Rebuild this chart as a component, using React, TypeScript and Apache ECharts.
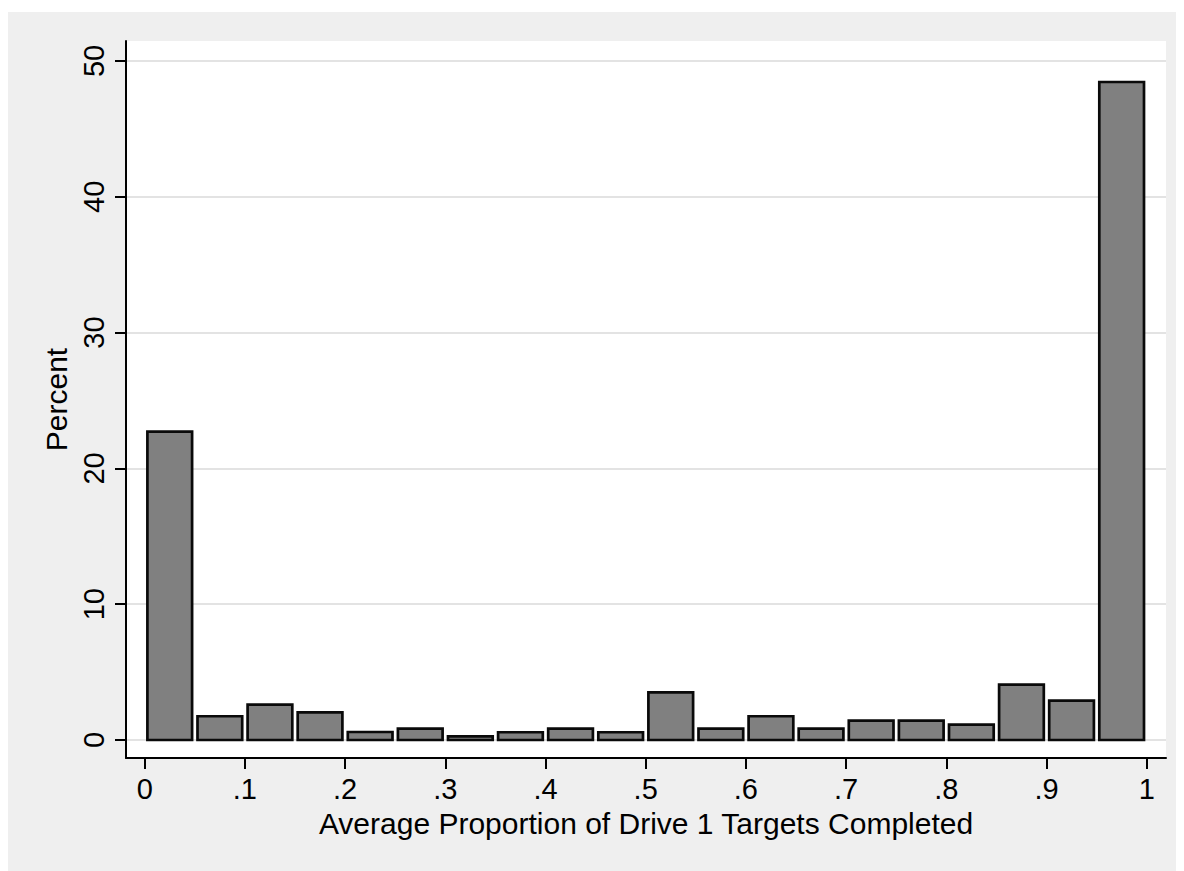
import React, { useEffect, useRef } from "react";
import * as echarts from "echarts";

// Histogram bins (start, end) and percent heights
const binStarts = [0, 0.05, 0.1, 0.15, 0.2, 0.25, 0.3, 0.35, 0.4, 0.45, 0.5, 0.55, 0.6, 0.65, 0.7, 0.75, 0.8, 0.85, 0.9, 0.95];
const binWidth = 0.05;
const percents = [22.7, 1.75, 2.6, 2.04, 0.59, 0.84, 0.27, 0.57, 0.84, 0.57, 3.51, 0.84, 1.75, 0.84, 1.43, 1.43, 1.13, 4.08, 2.9, 48.45];

const xTickValues = [0, 0.1, 0.2, 0.3, 0.4, 0.5, 0.6, 0.7, 0.8, 0.9, 1];
const xTickLabels = ["0", ".1", ".2", ".3", ".4", ".5", ".6", ".7", ".8", ".9", "1"];
const yTickValues = [0, 10, 20, 30, 40, 50];
const yTickLabels = ["0", "10", "20", "30", "40", "50"];

const xTitle = "Average Proportion of Drive 1 Targets Completed";
const yTitle = "Percent";

export default function App() {
  const ref = useRef<HTMLDivElement>(null);
  useEffect(() => {
    if (!ref.current) return;
    const chart = echarts.init(ref.current, null, { renderer: "svg" });
    const data = binStarts.map((s, i) => [s, s + binWidth, percents[i]]);
    const font = "'Liberation Sans', Arial, Helvetica, sans-serif";
    const fsTick = 29;
    const fsTitle = 30;
    chart.setOption({
      animation: false,
      backgroundColor: "#efefef",
      grid: {
        left: 118,
        right: 18,
        top: 29,
        bottom: 113,
        show: true,
        backgroundColor: "#ffffff",
        borderWidth: 0,
        containLabel: false,
      },
      xAxis: {
        type: "value",
        min: -0.01866,
        max: 1.01926,
        name: xTitle,
        nameLocation: "middle",
        nameGap: 50,
        nameTextStyle: { fontFamily: font, fontSize: fsTitle, color: "#000" },
        axisLine: { show: true, onZero: false, lineStyle: { color: "#000", width: 2 } },
        axisTick: { show: true, length: 11, lineStyle: { color: "#000", width: 2 }, customValues: xTickValues },
        axisLabel: {
          show: true,
          customValues: xTickValues,
          margin: 16,
          fontFamily: font,
          fontSize: fsTick,
          color: "#000",
          formatter: (v: number) => {
            const i = xTickValues.findIndex((t) => Math.abs(t - v) < 1e-9);
            return i >= 0 ? xTickLabels[i] : "";
          },
        },
        splitLine: { show: false },
      },
      yAxis: {
        type: "value",
        min: -1.3255,
        max: 51.47,
        name: yTitle,
        nameLocation: "middle",
        nameGap: 55,
        nameTextStyle: { fontFamily: font, fontSize: fsTitle, color: "#000" },
        axisLine: { show: true, onZero: false, lineStyle: { color: "#000", width: 2 } },
        axisTick: { show: true, length: 11, lineStyle: { color: "#000", width: 2 }, customValues: yTickValues },
        axisLabel: {
          show: true,
          customValues: yTickValues,
          rotate: 90,
          margin: 18,
          fontFamily: font,
          fontSize: fsTick,
          color: "#000",
          formatter: (v: number) => {
            const i = yTickValues.findIndex((t) => Math.abs(t - v) < 1e-9);
            return i >= 0 ? yTickLabels[i] : "";
          },
        },
        splitLine: { show: true, lineStyle: { color: "#e3e3e3", width: 2.2 } },
      },
      series: [
        {
          type: "custom",
          data,
          encode: { x: [0, 1], y: 2 },
          clip: false,
          renderItem: (params: any, api: any) => {
            const x0 = api.value(0);
            const x1 = api.value(1);
            const h = api.value(2);
            const p0 = api.coord([x0, 0]);
            const p1 = api.coord([x1, h]);
            const inset = 2.7;
            return {
              type: "rect",
              shape: {
                x: p0[0] + inset,
                y: p1[1],
                width: p1[0] - p0[0] - 2 * inset,
                height: p0[1] - p1[1],
              },
              style: { fill: "#808080", stroke: "#0a0a0a", lineWidth: 2.7 },
            };
          },
        },
      ],
    });
    return () => chart.dispose();
  }, []);
  return (
    <div style={{ paddingTop: 4 }}>
      <div ref={ref} style={{ width: 1176, height: 859 }} />
    </div>
  );
}
